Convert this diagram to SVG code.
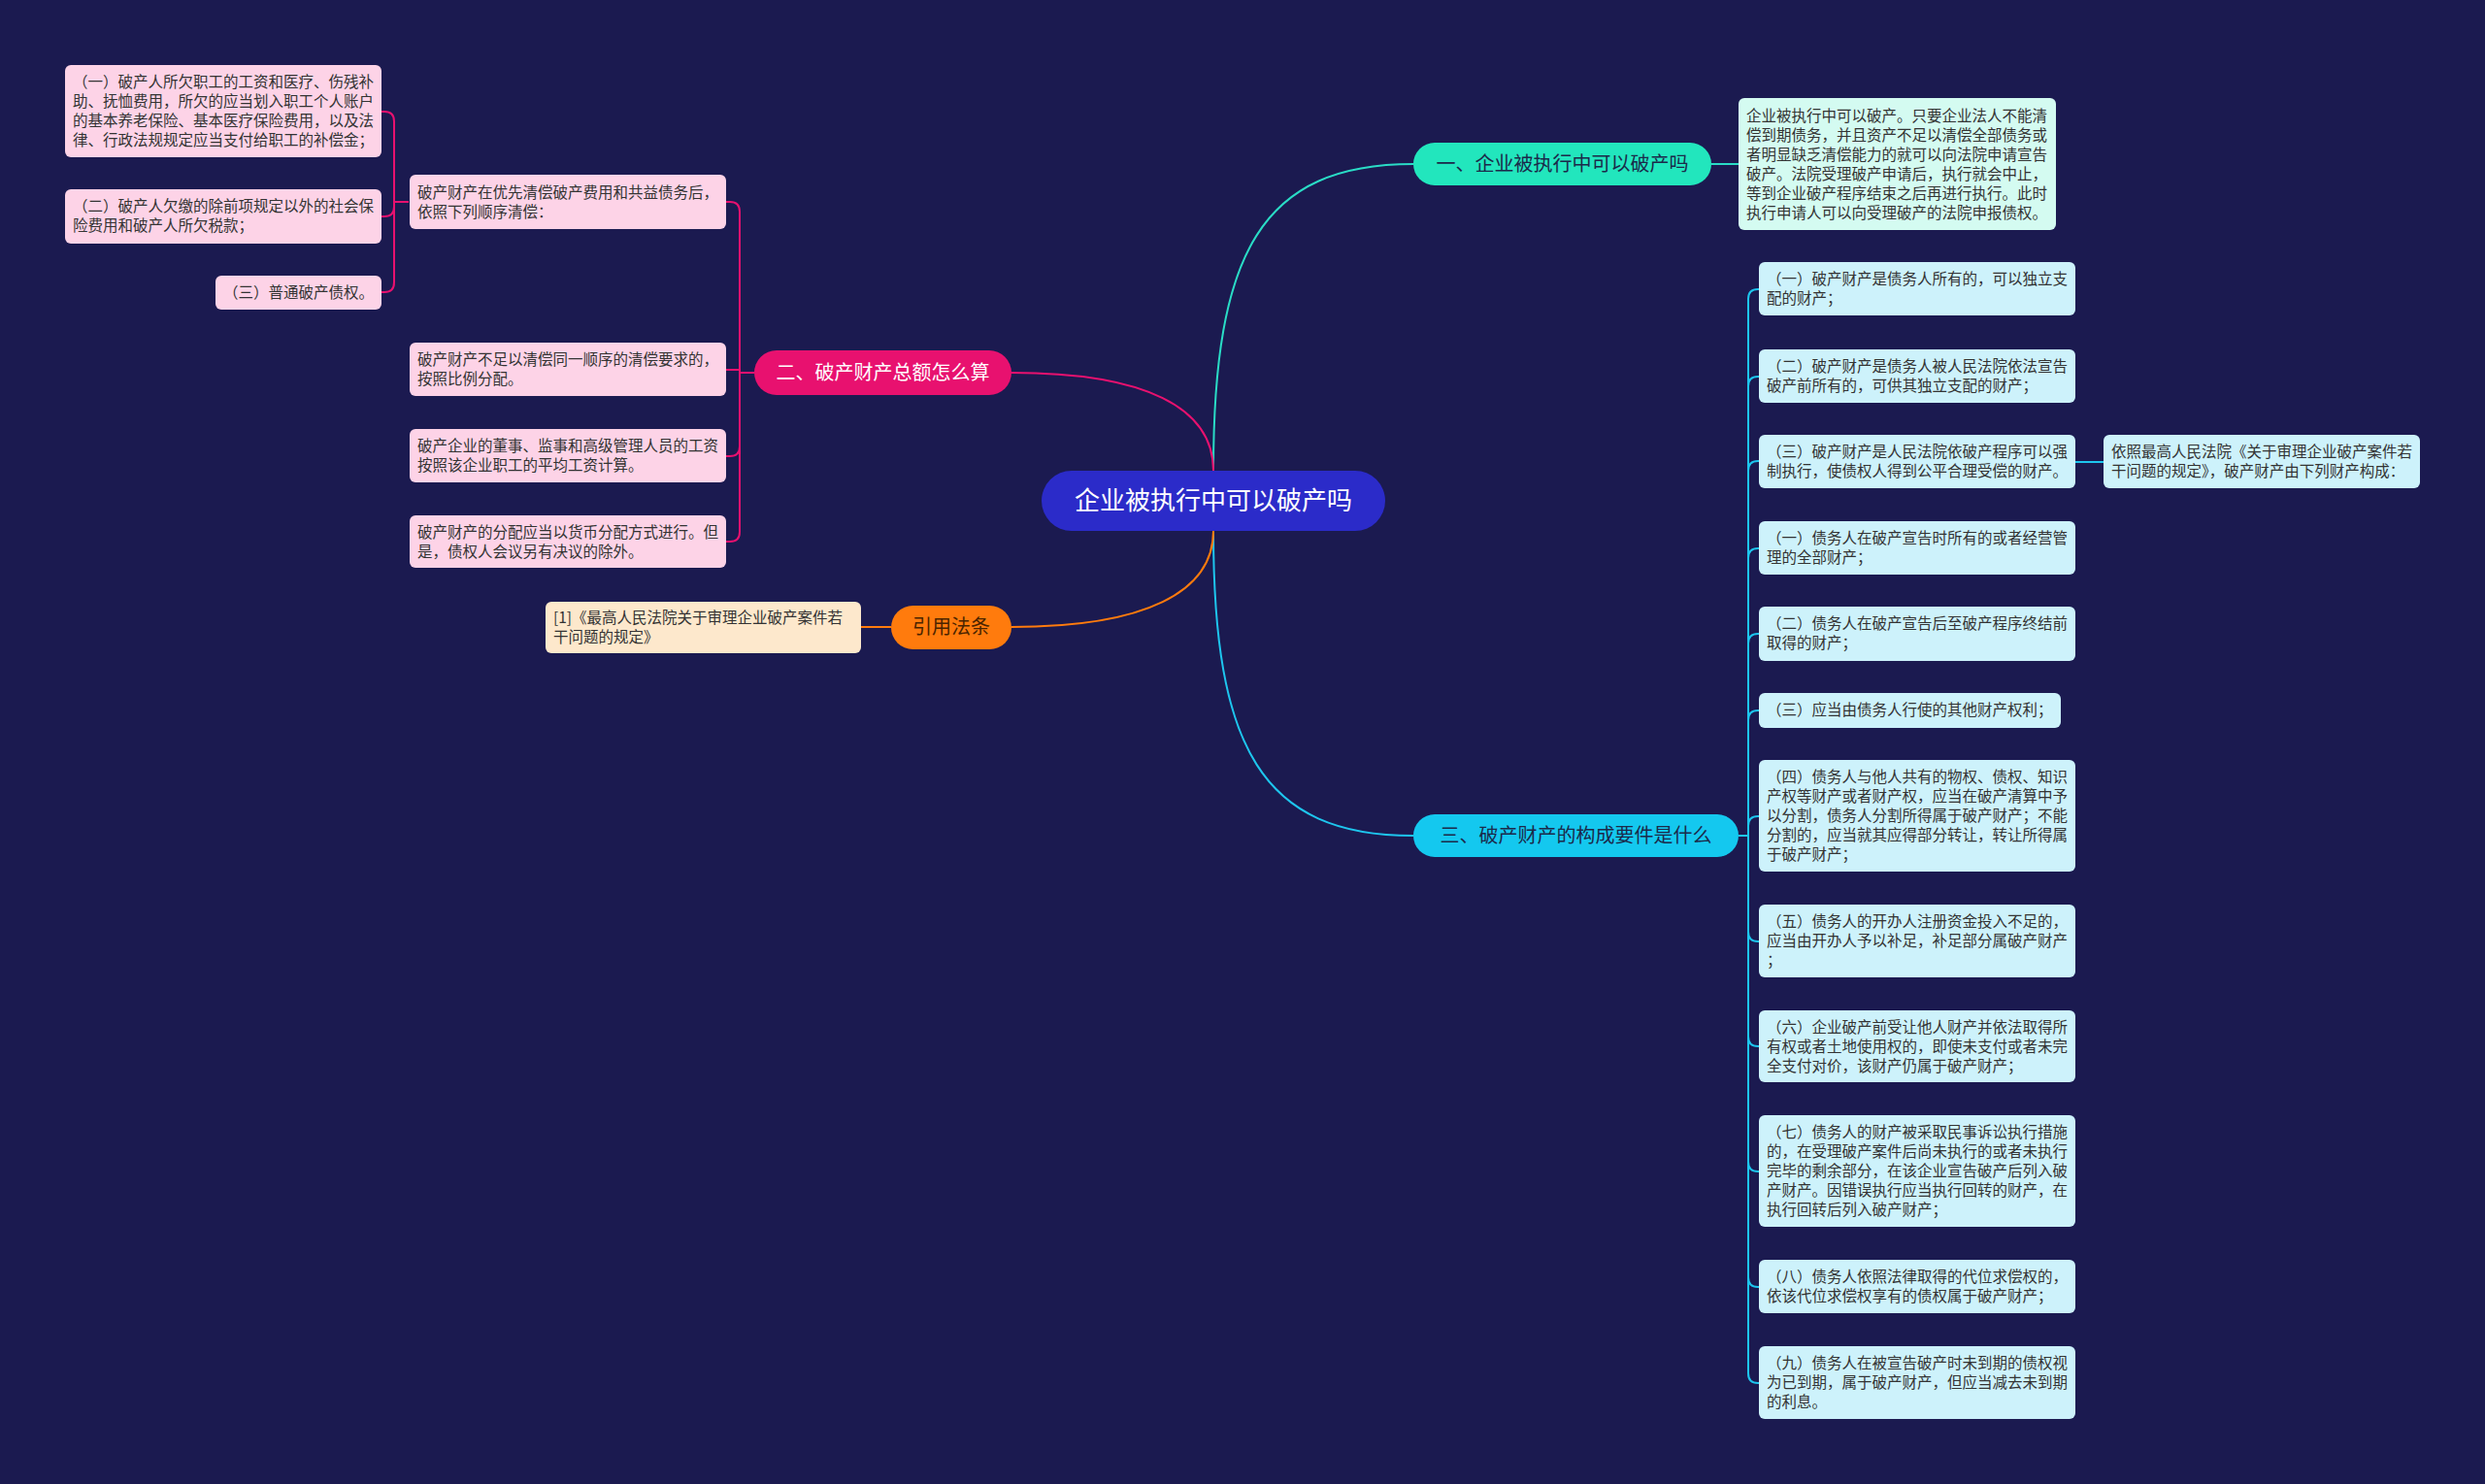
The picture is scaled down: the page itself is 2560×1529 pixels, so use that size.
<svg xmlns="http://www.w3.org/2000/svg" width="2560" height="1529" viewBox="0 0 2560 1529">
<style>
text{font-family:"Noto Sans CJK SC","Noto Sans",sans-serif;}
.t{font-size:15.5px;fill:#333333;}
.b{font-size:20px;}
.pink{fill:#fdd3e7;}
.cyan{fill:#cdf2fb;}
.mint{fill:#d4fbf1;}
.peach{fill:#fde8cc;}
.lp{fill:none;stroke:#e8116f;stroke-width:2;}
.lc{fill:none;stroke:#1ec6ee;stroke-width:2;}
.lt{fill:none;stroke:#2adcc6;stroke-width:2;}
.lo{fill:none;stroke:#ff7b0d;stroke-width:2;}
</style>
<rect width="2560" height="1529" fill="#1b1a50"/>
<g id="connectors">
<path class="lt" d="M1250 485 C1250 260 1300 169 1456 169"/>
<path class="lc" d="M1250 547 C1250 770 1300 861 1456 861"/>
<path class="lp" d="M1250 485 C1250 420 1180 384 1042 384"/>
<path class="lo" d="M1250 547 C1250 610 1180 646 1042 646"/>
<path class="lt" d="M1763 169 L1791 169"/>
<path class="lo" d="M918 646 L887 646"/>
<path class="lc" d="M2137 476 L2167 476"/>
<path class="lp" d="M777 384 H762 V218 Q762 208 752 208 H748"/>
<path class="lp" d="M777 384 H762 V381 H748"/>
<path class="lp" d="M777 384 H762 V460 Q762 470 752 470 H748"/>
<path class="lp" d="M777 384 H762 V548 Q762 558 752 558 H748"/>
<path class="lp" d="M421 208 H406 V125 Q406 115 396 115 H393"/>
<path class="lp" d="M421 208 H406 V213 Q406 223 396 223 H393"/>
<path class="lp" d="M421 208 H406 V291 Q406 301 396 301 H393"/>
<path class="lc" d="M1791 861 H1801 V308 Q1801 298 1811 298 H1812"/>
<path class="lc" d="M1791 861 H1801 V398 Q1801 388 1811 388 H1812"/>
<path class="lc" d="M1791 861 H1801 V485 Q1801 475 1811 475 H1812"/>
<path class="lc" d="M1791 861 H1801 V575 Q1801 565 1811 565 H1812"/>
<path class="lc" d="M1791 861 H1801 V663 Q1801 653 1811 653 H1812"/>
<path class="lc" d="M1791 861 H1801 V742 Q1801 732 1811 732 H1812"/>
<path class="lc" d="M1791 861 H1801 V851 Q1801 841 1811 841 H1812"/>
<path class="lc" d="M1791 861 H1801 V960 Q1801 970 1811 970 H1812"/>
<path class="lc" d="M1791 861 H1801 V1068 Q1801 1078 1811 1078 H1812"/>
<path class="lc" d="M1791 861 H1801 V1197 Q1801 1207 1811 1207 H1812"/>
<path class="lc" d="M1791 861 H1801 V1316 Q1801 1326 1811 1326 H1812"/>
<path class="lc" d="M1791 861 H1801 V1415 Q1801 1425 1811 1425 H1812"/>
</g>
<g id="root">
<rect x="1073" y="485" width="354" height="62" rx="31" fill="#2b2bc9"/>
<text x="1250" y="525" text-anchor="middle" font-size="26" fill="#ffffff">企业被执行中可以破产吗</text>
</g>
<g id="branch1">
<rect x="1456" y="147" width="307" height="44" rx="22" fill="#22e6bd"/>
<text class="b" x="1609.5" y="176" text-anchor="middle" fill="#1b2a4a">一、企业被执行中可以破产吗</text>
</g>
<g id="detail1">
<rect class="mint" x="1791" y="101" width="327" height="136" rx="6"/>
<text class="t" x="1799"><tspan x="1799" y="125">企业被执行中可以破产。只要企业法人不能清</tspan><tspan x="1799" y="145">偿到期债务，并且资产不足以清偿全部债务或</tspan><tspan x="1799" y="165">者明显缺乏清偿能力的就可以向法院申请宣告</tspan><tspan x="1799" y="185">破产。法院受理破产申请后，执行就会中止，</tspan><tspan x="1799" y="205">等到企业破产程序结束之后再进行执行。此时</tspan><tspan x="1799" y="225">执行申请人可以向受理破产的法院申报债权。</tspan></text>
</g>
<g id="branch2">
<rect x="777" y="361" width="265" height="46" rx="23" fill="#e8116f"/>
<text class="b" x="909.5" y="391" text-anchor="middle" fill="#ffffff">二、破产财产总额怎么算</text>
</g>
<g id="L1">
<rect class="pink" x="422" y="180" width="326" height="56" rx="6"/>
<text class="t"><tspan x="430" y="204">破产财产在优先清偿破产费用和共益债务后，</tspan><tspan x="430" y="224">依照下列顺序清偿：</tspan></text>
</g>
<g id="L2">
<rect class="pink" x="422" y="353" width="326" height="55" rx="6"/>
<text class="t"><tspan x="430" y="376">破产财产不足以清偿同一顺序的清偿要求的，</tspan><tspan x="430" y="396">按照比例分配。</tspan></text>
</g>
<g id="L3">
<rect class="pink" x="422" y="442" width="326" height="55" rx="6"/>
<text class="t"><tspan x="430" y="465">破产企业的董事、监事和高级管理人员的工资</tspan><tspan x="430" y="485">按照该企业职工的平均工资计算。</tspan></text>
</g>
<g id="L4">
<rect class="pink" x="422" y="531" width="326" height="54" rx="6"/>
<text class="t"><tspan x="430" y="554">破产财产的分配应当以货币分配方式进行。但</tspan><tspan x="430" y="574">是，债权人会议另有决议的除外。</tspan></text>
</g>
<g id="S1">
<rect class="pink" x="67" y="67" width="326" height="95" rx="6"/>
<text class="t"><tspan x="75" y="90">（一）破产人所欠职工的工资和医疗、伤残补</tspan><tspan x="75" y="110">助、抚恤费用，所欠的应当划入职工个人账户</tspan><tspan x="75" y="130">的基本养老保险、基本医疗保险费用，以及法</tspan><tspan x="75" y="150">律、行政法规规定应当支付给职工的补偿金；</tspan></text>
</g>
<g id="S2">
<rect class="pink" x="67" y="195" width="326" height="56" rx="6"/>
<text class="t"><tspan x="75" y="218">（二）破产人欠缴的除前项规定以外的社会保</tspan><tspan x="75" y="238">险费用和破产人所欠税款；</tspan></text>
</g>
<g id="S3">
<rect class="pink" x="222" y="284" width="171" height="35" rx="6"/>
<text class="t" x="230" y="307">（三）普通破产债权。</text>
</g>
<g id="citation">
<rect x="918" y="624" width="124" height="45" rx="22.5" fill="#ff7b0d"/>
<text class="b" x="980" y="653" text-anchor="middle" fill="#4a2400">引用法条</text>
</g>
<g id="cite1">
<rect class="peach" x="562" y="620" width="325" height="53" rx="6"/>
<text class="t"><tspan x="570" y="642">[1]《最高人民法院关于审理企业破产案件若</tspan><tspan x="570" y="662">干问题的规定》</tspan></text>
</g>
<g id="branch3">
<rect x="1456" y="839" width="335" height="44" rx="22" fill="#14c8ef"/>
<text class="b" x="1623.5" y="868" text-anchor="middle" fill="#1b2a4a">三、破产财产的构成要件是什么</text>
</g>
<g id="R1">
<rect class="cyan" x="1812" y="270" width="326" height="55" rx="6"/>
<text class="t"><tspan x="1820" y="293">（一）破产财产是债务人所有的，可以独立支</tspan><tspan x="1820" y="313">配的财产；</tspan></text>
</g>
<g id="R2">
<rect class="cyan" x="1812" y="360" width="326" height="55" rx="6"/>
<text class="t"><tspan x="1820" y="383">（二）破产财产是债务人被人民法院依法宣告</tspan><tspan x="1820" y="403">破产前所有的，可供其独立支配的财产；</tspan></text>
</g>
<g id="R3">
<rect class="cyan" x="1812" y="448" width="326" height="55" rx="6"/>
<text class="t"><tspan x="1820" y="471">（三）破产财产是人民法院依破产程序可以强</tspan><tspan x="1820" y="491">制执行，使债权人得到公平合理受偿的财产。</tspan></text>
</g>
<g id="R3a">
<rect class="cyan" x="2167" y="448" width="326" height="55" rx="6"/>
<text class="t"><tspan x="2175" y="471">依照最高人民法院《关于审理企业破产案件若</tspan><tspan x="2175" y="491">干问题的规定》，破产财产由下列财产构成：</tspan></text>
</g>
<g id="R4">
<rect class="cyan" x="1812" y="537" width="326" height="55" rx="6"/>
<text class="t"><tspan x="1820" y="560">（一）债务人在破产宣告时所有的或者经营管</tspan><tspan x="1820" y="580">理的全部财产；</tspan></text>
</g>
<g id="R5">
<rect class="cyan" x="1812" y="625" width="326" height="56" rx="6"/>
<text class="t"><tspan x="1820" y="648">（二）债务人在破产宣告后至破产程序终结前</tspan><tspan x="1820" y="668">取得的财产；</tspan></text>
</g>
<g id="R6">
<rect class="cyan" x="1812" y="714" width="311" height="36" rx="6"/>
<text class="t" x="1820" y="737">（三）应当由债务人行使的其他财产权利；</text>
</g>
<g id="R7">
<rect class="cyan" x="1812" y="783" width="326" height="115" rx="6"/>
<text class="t"><tspan x="1820" y="806">（四）债务人与他人共有的物权、债权、知识</tspan><tspan x="1820" y="826">产权等财产或者财产权，应当在破产清算中予</tspan><tspan x="1820" y="846">以分割，债务人分割所得属于破产财产；不能</tspan><tspan x="1820" y="866">分割的，应当就其应得部分转让，转让所得属</tspan><tspan x="1820" y="886">于破产财产；</tspan></text>
</g>
<g id="R8">
<rect class="cyan" x="1812" y="932" width="326" height="75" rx="6"/>
<text class="t"><tspan x="1820" y="955">（五）债务人的开办人注册资金投入不足的，</tspan><tspan x="1820" y="975">应当由开办人予以补足，补足部分属破产财产</tspan><tspan x="1820" y="995">；</tspan></text>
</g>
<g id="R9">
<rect class="cyan" x="1812" y="1041" width="326" height="74" rx="6"/>
<text class="t"><tspan x="1820" y="1064">（六）企业破产前受让他人财产并依法取得所</tspan><tspan x="1820" y="1084">有权或者土地使用权的，即使未支付或者未完</tspan><tspan x="1820" y="1104">全支付对价，该财产仍属于破产财产；</tspan></text>
</g>
<g id="R10">
<rect class="cyan" x="1812" y="1149" width="326" height="115" rx="6"/>
<text class="t"><tspan x="1820" y="1172">（七）债务人的财产被采取民事诉讼执行措施</tspan><tspan x="1820" y="1192">的，在受理破产案件后尚未执行的或者未执行</tspan><tspan x="1820" y="1212">完毕的剩余部分，在该企业宣告破产后列入破</tspan><tspan x="1820" y="1232">产财产。因错误执行应当执行回转的财产，在</tspan><tspan x="1820" y="1252">执行回转后列入破产财产；</tspan></text>
</g>
<g id="R11">
<rect class="cyan" x="1812" y="1298" width="326" height="55" rx="6"/>
<text class="t"><tspan x="1820" y="1321">（八）债务人依照法律取得的代位求偿权的，</tspan><tspan x="1820" y="1341">依该代位求偿权享有的债权属于破产财产；</tspan></text>
</g>
<g id="R12">
<rect class="cyan" x="1812" y="1387" width="326" height="75" rx="6"/>
<text class="t"><tspan x="1820" y="1410">（九）债务人在被宣告破产时未到期的债权视</tspan><tspan x="1820" y="1430">为已到期，属于破产财产，但应当减去未到期</tspan><tspan x="1820" y="1450">的利息。</tspan></text>
</g>
</svg>
